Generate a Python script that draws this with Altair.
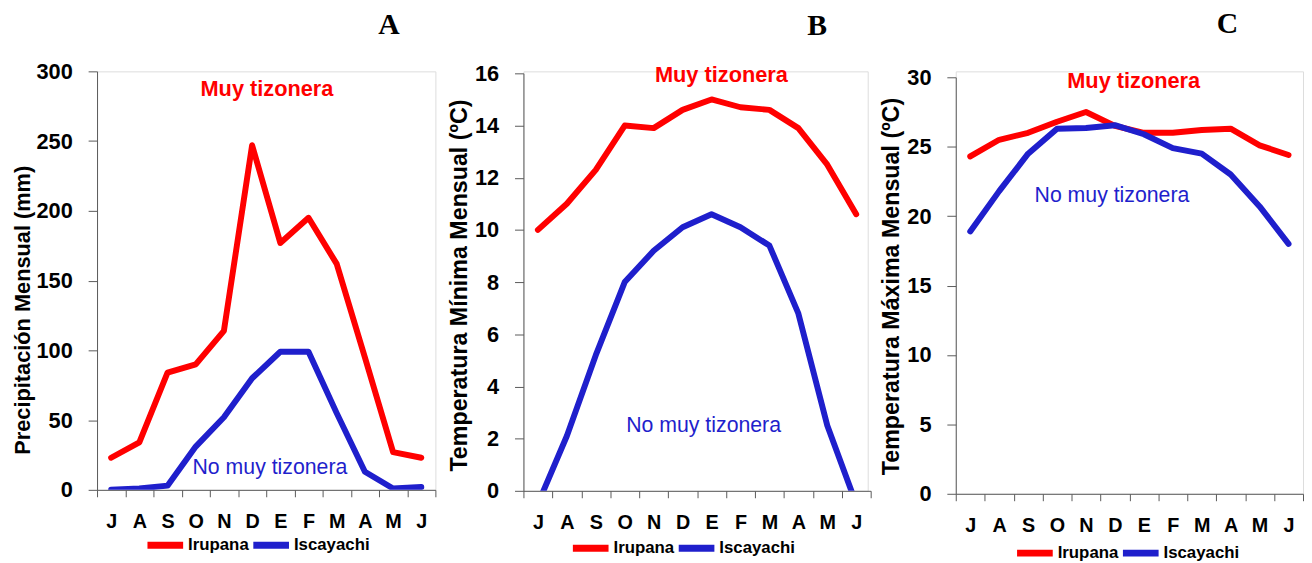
import altair as alt
import pandas as pd

months = ["Jul", "Ago", "Sep", "Oct", "Nov", "Dic", "Ene", "Feb", "Mar", "Abr", "May", "Jun"]
sites = ["Irupana", "Iscayachi"]

prec_irupana = [23, 34, 84, 90, 114, 247, 177, 195, 162, 95, 27, 23]
prec_iscayachi = [0, 1, 3, 31, 52, 80, 99, 99, 55, 13, 1, 2]

tmin_irupana = [10.0, 11.0, 12.3, 14.0, 13.9, 14.6, 15.0, 14.7, 14.6, 13.9, 12.5, 10.6]
tmin_iscayachi = [-0.5, 2.1, 5.2, 8.0, 9.2, 10.1, 10.6, 10.1, 9.4, 6.8, 2.5, -0.5]

tmax_irupana = [24.3, 25.5, 26.0, 26.8, 27.5, 26.5, 26.0, 26.0, 26.2, 26.3, 25.1, 24.4]
tmax_iscayachi = [18.9, 21.8, 24.5, 26.3, 26.35, 26.55, 25.9, 24.9, 24.5, 23.0, 20.7, 18.0]

RED = "#FF0000"
BLUE = "#1F1FCC"
SANS = "Liberation Sans"


def frame(a, b):
    return pd.DataFrame({
        "mes": months * 2,
        "sitio": [sites[0]] * 12 + [sites[1]] * 12,
        "valor": list(a) + list(b),
        "idx": list(range(12)) * 2,
    })


def panel(df, letter, ytitle, tfs, ymax, ystep, width, xspan, height, ytop,
          title_dx, title_offset, ttx, tty, lx, ly, ann):
    x = alt.X("mes:N", sort=months, title=None,
              scale=alt.Scale(type="band", paddingInner=0, paddingOuter=0,
                              range=[0, xspan]),
              axis=alt.Axis(labelExpr="substring(datum.label,0,1)", labelAngle=0,
                            labelFont=SANS, labelFontWeight="bold", labelFontSize=20,
                            labelColor="black", labelPadding=15, tickBand="extent",
                            tickSize=7, tickColor="#595959", domainColor="#595959",
                            grid=False))
    y = alt.Y("valor:Q", title=ytitle,
              scale=alt.Scale(domain=[0, ymax], nice=False, zero=True,
                              range=[height, ytop]),
              axis=alt.Axis(values=list(range(0, ymax + 1, ystep)), grid=False,
                            labelFont=SANS, labelFontWeight="bold", labelFontSize=22,
                            labelColor="black", labelPadding=16, tickSize=9,
                            tickColor="#595959", domainColor="#595959",
                            titleFont=SANS, titleFontWeight="bold", titleFontSize=tfs,
                            titleColor="black", titleX=ttx, titleY=tty,
                            titleAngle=270, titleAlign="center", titleBaseline="middle"))
    color = alt.Color("sitio:N", scale=alt.Scale(domain=sites, range=[RED, BLUE]),
                      legend=alt.Legend(title=None, orient="none", legendX=lx, legendY=ly,
                                        direction="horizontal", symbolType="stroke",
                                        symbolStrokeWidth=7, symbolSize=1300,
                                        labelFont=SANS, labelFontWeight="bold",
                                        labelFontSize=17, labelColor="black",
                                        labelOffset=1, columnPadding=-12))
    lines = alt.Chart(df).mark_line(strokeWidth=6, strokeCap="round", strokeJoin="round",
                                    clip=True).encode(x=x, y=y, color=color,
                                                      order=alt.Order("idx:Q"))
    layers = [lines]
    for (txt, col, bold, mes, dx, val, fs) in ann:
        layers.append(
            alt.Chart(pd.DataFrame({"t": [txt]})).mark_text(
                font=SANS, fontSize=fs, fontWeight="bold" if bold else "normal",
                color=col, align="center", baseline="middle", dx=dx
            ).encode(x=alt.X(datum=mes), y=alt.Y(datum=val), text="t:N")
        )
    return alt.layer(*layers).properties(
        width=width, height=height,
        title=alt.TitleParams(letter, font="Liberation Serif", fontSize=30,
                              fontWeight="bold", color="black", anchor="middle",
                              dx=title_dx, offset=title_offset))


a = panel(frame(prec_irupana, prec_iscayachi), "A", "Precipitación Mensual (mm)", 22,
          300, 50, 342, 342, 423, 0, 124, 21, -75, 241, 47, 457,
          [("Muy tizonera", RED, True, "Dic", 15, 287, 22),
           ("No muy tizonera", BLUE, False, "Dic", 18, 15.6, 21.5)])
b = panel(frame(tmin_irupana, tmin_iscayachi), "B", "Temperatura Mínima Mensual (ºC)", 23.5,
          16, 2, 348, 351, 424, 2, 123, 22, -65, 216, 46, 460,
          [("Muy tizonera", RED, True, "Ene", 10, 15.92, 22),
           ("No muy tizonera", BLUE, False, "Ene", -8, 2.5, 21.5)])
c = panel(frame(tmax_irupana, tmax_iscayachi), "C", "Temperatura Máxima Mensual (ºC)", 23.5,
          30, 5, 351, 351, 427, 6, 99, 28, -65, 217, 58, 465,
          [("Muy tizonera", RED, True, "Dic", 19, 29.72, 22),
           ("No muy tizonera", BLUE, False, "Dic", -3, 21.45, 21.5)])

chart = alt.hconcat(a, b, c, spacing=89, bounds="flush").resolve_scale(
    x="independent", y="independent", color="independent").resolve_legend(color="independent")
chart = chart.properties(padding={"left": 3, "top": -3, "right": 0, "bottom": 0}).configure_view(
    strokeWidth=0).configure(background="white")

chart.save("out.html", embed_options={"renderer": "svg", "actions": False})
